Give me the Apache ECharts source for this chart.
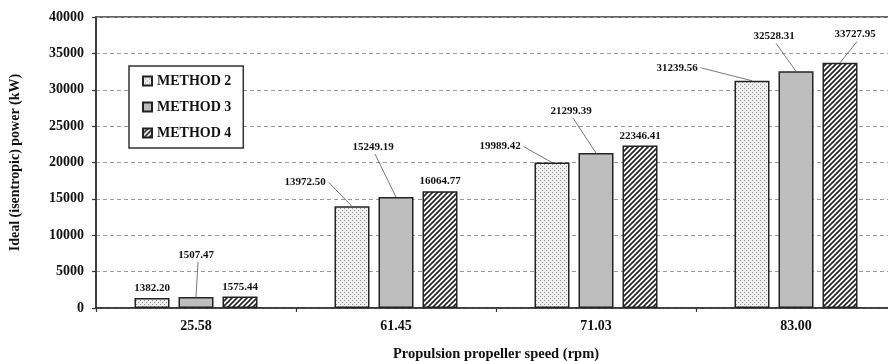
<!DOCTYPE html>
<html>
<head>
<meta charset="utf-8">
<script src="https://cdn.jsdelivr.net/npm/echarts@6/dist/echarts.min.js"></script>
<style>
html,body{margin:0;padding:0;background:#fff;}
#chart{width:888px;height:361px;}
</style>
</head>
<body>
<div id="chart"></div>
<script>
// ---- data ----
const categories = ['25.58', '61.45', '71.03', '83.00'];
const seriesNames = ['METHOD 2', 'METHOD 3', 'METHOD 4'];
const method2 = [1382.20, 13972.50, 19989.42, 31239.56];
const method3 = [1507.47, 15249.19, 21299.39, 32528.31];
const method4 = [1575.44, 16064.77, 22346.41, 33727.95];
const yTicks = [0, 5000, 10000, 15000, 20000, 25000, 30000, 35000, 40000];

// ---- styles ----
const FONT = '"Liberation Serif", "Times New Roman", serif';
const BAR_W = 35, BAR_GAP = 9;
// label offsets (label centre relative to bar top centre), anchor side for leader line
const labelOffsets = [
  [null, [-47, -24, 'r'], [-52, -16, 'r'], [-75, -13, 'r']],
  [[0, -42, 'b'], [-23, -50, 'b'], [-25, -42, 'b'], [-22, -35, 'b']],
  [null, null, null, [15, -28, 'b']]
];

function makePattern(kind) {
  const c = document.createElement('canvas');
  const ctx = c.getContext('2d');
  if (kind === 'dots') {
    c.width = 4; c.height = 4;
    ctx.fillStyle = '#efefef'; ctx.fillRect(0, 0, 4, 4);
    ctx.fillStyle = '#909090';
    ctx.fillRect(0, 0, 1, 1); ctx.fillRect(2, 2, 1, 1);
  } else if (kind === 'hatch') {
    c.width = 5; c.height = 5;
    ctx.fillStyle = '#ffffff'; ctx.fillRect(0, 0, 5, 5);
    ctx.strokeStyle = '#222'; ctx.lineWidth = 1.6;
    ctx.beginPath();
    ctx.moveTo(-1, 6); ctx.lineTo(6, -1);
    ctx.moveTo(-1, 1); ctx.lineTo(1, -1);
    ctx.moveTo(4, 6); ctx.lineTo(6, 4);
    ctx.stroke();
  }
  return c;
}
const fills = [
  { image: makePattern('dots'), repeat: 'repeat' },
  '#bdbdbd',
  { image: makePattern('hatch'), repeat: 'repeat' }
];
const allData = [method2, method3, method4];

const chart = echarts.init(document.getElementById('chart'), null, { renderer: 'canvas' });

const series = allData.map((vals, s) => ({
  name: seriesNames[s],
  type: 'bar',
  data: vals,
  barWidth: BAR_W,
  barGap: (BAR_GAP / BAR_W * 100) + '%',
  itemStyle: { color: fills[s], borderColor: '#222', borderWidth: 1.5 },
  label: {
    show: true, position: 'top', distance: 4,
    formatter: p => p.value.toFixed(2),
    fontFamily: FONT, fontWeight: 'bold', fontSize: 11, color: '#111'
  },
  labelLayout: function (params) {
    const o = labelOffsets[params.seriesIndex][params.dataIndex];
    if (!o) return {};
    return {
      x: params.rect.x + params.rect.width / 2 + o[0],
      y: params.rect.y + o[1],
      align: 'center', verticalAlign: 'middle'
    };
  }
}));

chart.setOption({
  animation: false,
  backgroundColor: '#fff',
  grid: { left: 96, top: 17, width: 800, bottom: 53, outerBoundsMode: 'none', containLabel: false,
    show: true, borderColor: '#333', borderWidth: 1.5, backgroundColor: 'transparent' },
  legend: {
    orient: 'vertical', left: 129, top: 66,
    padding: [8, 12, 8, 13], itemGap: 12,
    itemWidth: 9, itemHeight: 9, icon: 'rect',
    borderColor: '#333', borderWidth: 1.5, backgroundColor: '#fff',
    textStyle: { fontFamily: FONT, fontWeight: 'bold', fontSize: 14, color: '#111' },
    data: seriesNames
  },
  xAxis: {
    type: 'category', data: categories,
    name: 'Propulsion propeller speed (rpm)', nameLocation: 'middle', nameGap: 39,
    nameTextStyle: { fontFamily: FONT, fontWeight: 'bold', fontSize: 14.5, color: '#111' },
    axisLine: { lineStyle: { color: '#333', width: 1.5 } },
    axisTick: { show: true, length: 4, lineStyle: { color: '#333', width: 1.2 } },
    axisLabel: { fontFamily: FONT, fontWeight: 'bold', fontSize: 14, color: '#111', margin: 11 }
  },
  yAxis: {
    type: 'value', min: 0, max: 40000, interval: 5000,
    name: 'Ideal (isentropic) power (kW)', nameLocation: 'middle', nameGap: 74,
    nameTextStyle: { fontFamily: FONT, fontWeight: 'bold', fontSize: 14, color: '#111' },
    axisLine: { show: true, lineStyle: { color: '#333', width: 1.5 } },
    axisTick: { show: true, length: 4, lineStyle: { color: '#333', width: 1.2 } },
    axisLabel: { fontFamily: FONT, fontWeight: 'bold', fontSize: 14, color: '#111', margin: 12,
      formatter: v => yTicks.indexOf(v) >= 0 ? String(v) : '' },
    splitLine: { show: true, lineStyle: { color: '#9a9a9a', type: [4, 3], width: 1 } }
  },
  series: series
});

// leader lines from moved labels to their bars
const mctx = document.createElement('canvas').getContext('2d');
mctx.font = 'bold 11px ' + FONT;
const lines = [];
allData.forEach((vals, s) => {
  vals.forEach((v, i) => {
    const o = labelOffsets[s][i];
    if (!o) return;
    const p = chart.convertToPixel({ gridIndex: 0 }, [i, v]);
    const cx = p[0] + (s - 1) * (BAR_W + BAR_GAP);
    const top = p[1];
    const lx = cx + o[0], ly = top + o[1];
    const hw = mctx.measureText(v.toFixed(2)).width / 2;
    let sx, sy;
    if (o[2] === 'r') { sx = lx + hw + 3; sy = ly; }
    else { sx = lx + 2; sy = ly + 7; }
    lines.push({
      type: 'line', silent: true, z: 10,
      shape: { x1: sx, y1: sy, x2: cx, y2: top },
      style: { stroke: '#555', lineWidth: 0.8 }
    });
  });
});
chart.setOption({ graphic: lines });
</script>
</body>
</html>
